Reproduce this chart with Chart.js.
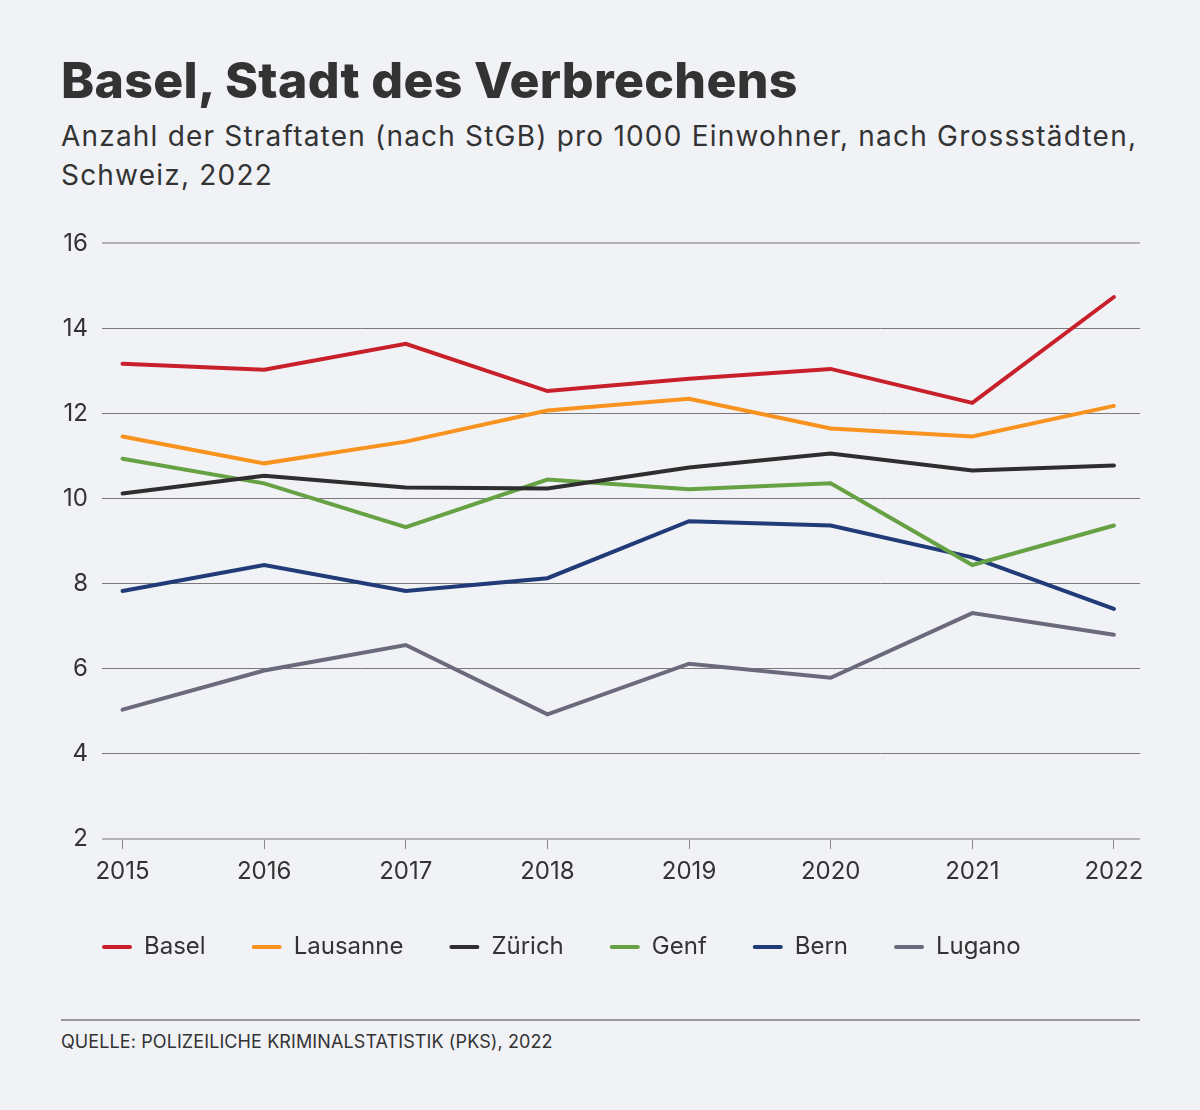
<!DOCTYPE html>
<html>
<head>
<meta charset="utf-8">
<script src="https://cdn.jsdelivr.net/npm/chart.js@4"></script>
<style>
  body { margin: 0; background: #f1f2f6; font-family: Inter, "Open Sans", sans-serif; color: #333; }
  #wrap { position: relative; width: 1200px; height: 1110px; }
  h1 { position: absolute; left: 61px; top: 50px; margin: 0; font-size: 50px; font-weight: 800; letter-spacing: 0.3px; color: #333; }
  .sub { position: absolute; left: 61px; top: 117px; width: 1120px; font-size: 28px; line-height: 39px; letter-spacing: 1.2px; color: #333; }
  #chartBox { position: absolute; left: 0; top: 215px; width: 1200px; height: 754px; }
  .rule { position: absolute; left: 61px; top: 1019px; width: 1079px; height: 2px; background: #999; }
  .src { position: absolute; left: 61px; top: 1031px; font-size: 18px; letter-spacing: 0.1px; color: #333; }
</style>
</head>
<body>
<div id="wrap">
  <h1>Basel, Stadt des Verbrechens</h1>
  <div class="sub">Anzahl der Straftaten (nach StGB) pro 1000 Einwohner, nach Grossstädten,<br>Schweiz, 2022</div>
  <div id="chartBox"><canvas id="chart"></canvas></div>
  <div class="rule"></div>
  <div class="src">QUELLE: POLIZEILICHE KRIMINALSTATISTIK (PKS), 2022</div>
</div>
<script>
var years = [2015, 2016, 2017, 2018, 2019, 2020, 2021, 2022];
var basel    = [13.17, 13.03, 13.64, 12.53, 12.82, 13.05, 12.25, 14.74];
var lausanne = [11.46, 10.83, 11.34, 12.07, 12.35, 11.65, 11.46, 12.18];
var zuerich  = [10.12, 10.54, 10.26, 10.24, 10.73, 11.06, 10.66, 10.78];
var genf     = [10.94, 10.36, 9.33, 10.45, 10.22, 10.36, 8.44, 9.37];
var bern     = [7.83, 8.44, 7.83, 8.13, 9.47, 9.37, 8.62, 7.41];
var lugano   = [5.04, 5.96, 6.56, 4.93, 6.12, 5.79, 7.31, 6.80];
var yTicks = [2, 4, 6, 8, 10, 12, 14, 16];

function pts(values) {
    return values.map(function (v, i) { return { x: years[i], y: v }; });
}

function series(label, values, color) {
    return {
        label: label,
        data: pts(values),
        borderColor: color,
        backgroundColor: color,
        borderWidth: 4,
        pointRadius: 0,
        tension: 0,
        borderCapStyle: 'round'
    };
}

var ctx = document.getElementById('chart');
var font = "Inter, 'Open Sans', sans-serif";

var chart = new Chart(ctx, {
    type: 'line',
    data: {
        datasets: [
            series('Basel', basel, '#c8202a'),
            series('Lausanne', lausanne, '#f7931e'),
            series('Zürich', zuerich, '#2e2e2e'),
            series('Genf', genf, '#66a144'),
            series('Bern', bern, '#213a78'),
            series('Lugano', lugano, '#6b6a7c')
        ]
    },
    options: {
        responsive: true,
        maintainAspectRatio: false,
        animation: false,
        layout: { padding: { left: 56, right: 60, top: 4, bottom: 0 } },
        scales: {
            x: {
                type: 'linear',
                min: 2014.855,
                max: 2022.184,
                afterBuildTicks: function (scale) {
                    scale.ticks = years.map(function (y) { return { value: y }; });
                },
                afterFit: function (scale) { scale.height = 50; },
                grid: { drawOnChartArea: false, drawTicks: true, tickLength: 10, color: '#888', lineWidth: 1 },
                border: { display: false },
                ticks: {
                    color: '#333',
                    font: { family: font, size: 24 },
                    padding: 8,
                    maxRotation: 0,
                    autoSkip: false,
                    callback: function (v) { return String(v); }
                }
            },
            y: {
                min: 2,
                max: 16,
                afterBuildTicks: function (scale) {
                    scale.ticks = yTicks.map(function (v) { return { value: v }; });
                },
                afterFit: function (scale) { scale.width = 46; },
                grid: {
                    drawTicks: false,
                    color: function (c) { return (c.tick && (c.tick.value === 16 || c.tick.value === 2)) ? '#b3b3b7' : '#7a7a7e'; },
                    lineWidth: function (c) { return (c.tick && (c.tick.value === 16 || c.tick.value === 2)) ? 2 : 1; }
                },
                border: { display: false },
                ticks: {
                    color: '#333',
                    font: { family: font, size: 24 },
                    padding: 14
                }
            }
        },
        plugins: {
            legend: {
                position: 'bottom',
                align: 'start',
                labels: {
                    boxWidth: 30,
                    boxHeight: 4,
                    useBorderRadius: true,
                    borderRadius: 2,
                    color: '#333',
                    font: { family: font, size: 24 },
                    padding: 46,
                    generateLabels: function (c) {
                        var items = Chart.defaults.plugins.legend.labels.generateLabels(c);
                        items.forEach(function (it) { it.lineWidth = 0; });
                        return items;
                    }
                }
            },
            tooltip: { enabled: false }
        }
    }
});
</script>
</body>
</html>
